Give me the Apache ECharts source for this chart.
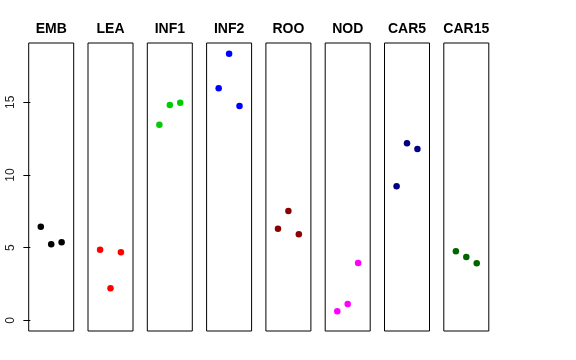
<!DOCTYPE html>
<html>
<head>
<meta charset="utf-8">
<script src="https://cdn.jsdelivr.net/npm/echarts@6/dist/echarts.min.js"></script>
<style>html,body{margin:0;padding:0;background:#fff}#c{width:576px;height:360px}</style>
</head>
<body>
<div id="c"></div>
<script>
const categories = ['EMB','LEA','INF1','INF2','ROO','NOD','CAR5','CAR15'];
const xIndex = [1, 2, 3];
const EMB = [6.44, 5.23, 5.37];
const LEA = [4.86, 2.20, 4.68];
const INF1 = [13.46, 14.82, 14.98];
const INF2 = [15.97, 18.35, 14.75];
const ROO = [6.30, 7.52, 5.92];
const NOD = [0.62, 1.12, 3.94];
const CAR5 = [9.22, 12.18, 11.79];
const CAR15 = [4.75, 4.36, 3.92];
const seriesValues = [EMB, LEA, INF1, INF2, ROO, NOD, CAR5, CAR15];
const colors = ['#000000','#FF0000','#00CD00','#0000FF','#8B0000','#FF00FF','#000080','#006400'];
const yTicks = [0, 5, 10, 15];

const yMinData = 0, yMaxData = 18.35;
const ext = (yMaxData - yMinData) * 0.04;
const yMin = yMinData - ext, yMax = yMaxData + ext;
const xMin = -0.16, xMax = 4.16;

const gLeft0 = 28.7, gStep = 59.3, gW = 45, gTop = 43, gH = 288;
const grids = [], xAxes = [], yAxes = [], series = [], titles = [];
categories.forEach((cat, i) => {
  const l = gLeft0 + i * gStep;
  grids.push({left: l, top: gTop, width: gW, height: gH, show: true, borderColor: '#000', borderWidth: 1, backgroundColor: 'transparent'});
  xAxes.push({type: 'value', gridIndex: i, min: xMin, max: xMax, show: false});
  yAxes.push({
    type: 'value', gridIndex: i, min: yMin, max: yMax, show: i === 0,
    axisLine: {show: false}, splitLine: {show: false},
    axisTick: {show: true, inside: false, length: 7, lineStyle: {color: '#000'}, customValues: yTicks},
    axisLabel: {show: true, rotate: 90, margin: 12, fontSize: 12, color: '#222', fontFamily: 'Liberation Sans', customValues: yTicks}
  });
  series.push({
    type: 'scatter', xAxisIndex: i, yAxisIndex: i, symbol: 'circle', symbolSize: 6.5,
    itemStyle: {color: colors[i], opacity: 1}, silent: true,
    data: xIndex.map((x, k) => [x, seriesValues[i][k]])
  });
  titles.push({text: cat, left: l + gW / 2, top: 22, textAlign: 'center', padding: 0,
    textStyle: {fontSize: 14, fontWeight: 'bold', color: '#000', fontFamily: 'Liberation Sans'}});
});

const chart = echarts.init(document.getElementById('c'), null, {renderer: 'canvas'});
chart.setOption({animation: false, title: titles, grid: grids, xAxis: xAxes, yAxis: yAxes, series: series});
</script>
</body>
</html>
